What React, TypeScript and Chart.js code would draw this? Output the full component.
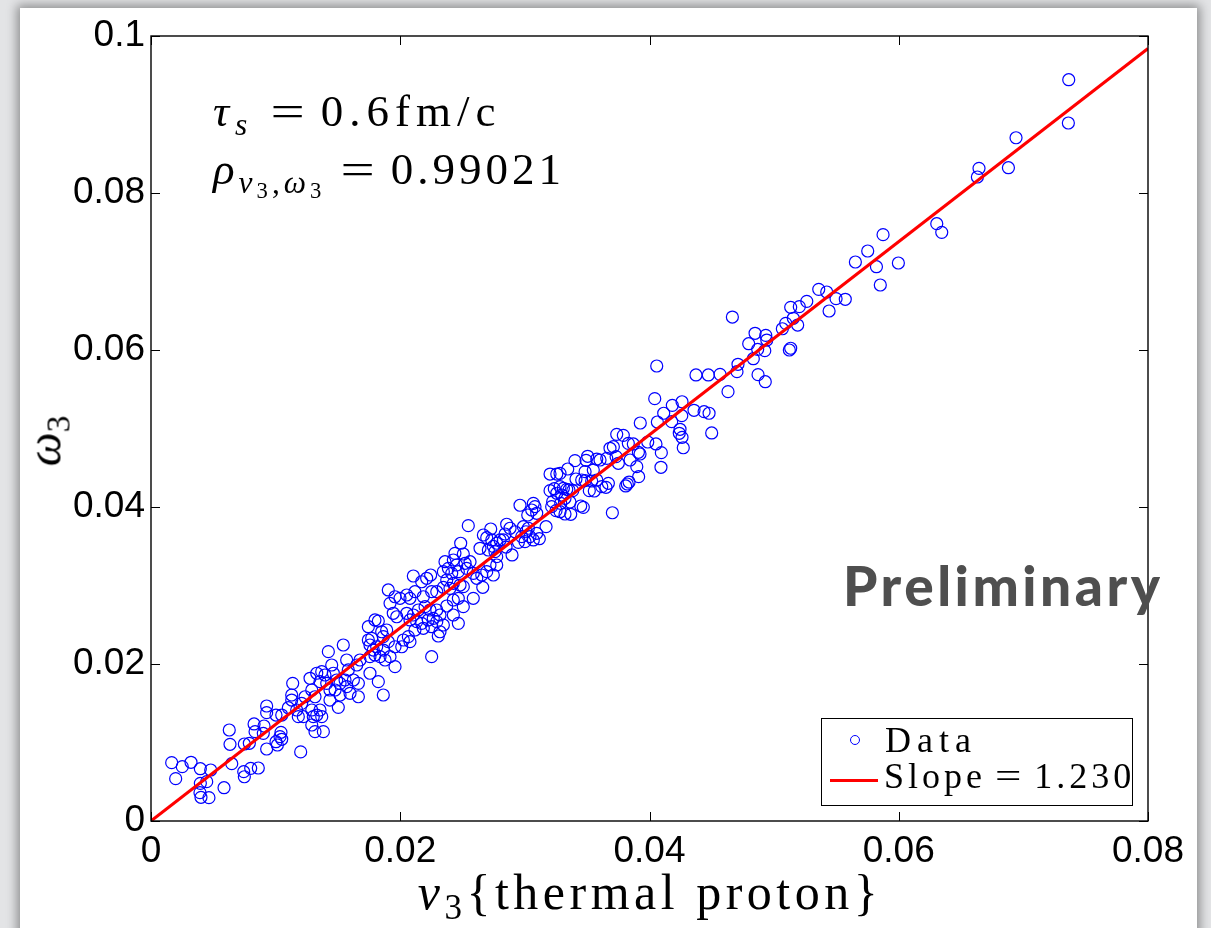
import React, { useEffect, useRef } from "react";
import { Chart, registerables } from "chart.js";

Chart.register(...registerables);

// ---- axis ticks ----
const xTicks = [0, 0.02, 0.04, 0.06, 0.08];
const yTicks = [0, 0.02, 0.04, 0.06, 0.08, 0.1];
const xRange = [0, 0.08];
const yRange = [0, 0.1];

// ---- fit ----
const slope = 1.23;
const fitX = [0, 0.08];

// ---- data (v3, omega3) ----
const dataLow: [number, number][] = [
  [0.00166,0.00743],[0.00251,0.00692],[0.00321,0.00748],[0.00396,0.00666],[0.00479,0.00650],[0.00198,0.00539],[0.00396,0.00480],[0.00447,0.00501],[0.00393,0.00361],[0.00401,0.00302],[0.00465,0.00297],[0.00586,0.00424],[0.00648,0.00730],[0.00628,0.01159],[0.00634,0.00977],[0.00744,0.00628],[0.00749,0.00564],[0.00800,0.00671],[0.00861,0.00675],[0.00749,0.00981],[0.00789,0.00990],[0.00827,0.01236],[0.00835,0.01138],[0.00907,0.01210],[0.00901,0.01117],[0.00928,0.01465],[0.00928,0.01380],[0.00928,0.00917],[0.01003,0.01010],[0.01014,0.00968],[0.01043,0.01130],[0.01035,0.01074],[0.01049,0.01041],[0.01003,0.01350],[0.01049,0.01350],[0.01201,0.00880],
];
const dataLowMid: [number, number][] = [
  [0.01102,0.01443],[0.01137,0.01754],[0.01129,0.01605],[0.01129,0.01541],[0.01169,0.01414],[0.01209,0.01499],[0.01182,0.01329],[0.01222,0.01329],[0.01236,0.01583],[0.01276,0.01818],[0.01290,0.01669],[0.01316,0.01583],[0.01290,0.01414],[0.01302,0.01329],[0.01330,0.01350],[0.01356,0.01414],[0.01370,0.01329],[0.01290,0.01223],[0.01316,0.01138],[0.01383,0.01138],[0.01330,0.01882],[0.01370,0.01902],[0.01396,0.01860],[0.01356,0.01775],[0.01410,0.01754],[0.01450,0.01987],[0.01423,0.02157],[0.01463,0.01882],[0.01490,0.01796],[0.01436,0.01669],[0.01477,0.01669],[0.01517,0.01754],[0.01557,0.01796],[0.01543,0.02242],[0.01570,0.02051],[0.01517,0.01605],[0.01436,0.01541],[0.01503,0.01448],[0.01570,0.01711],[0.01583,0.01924],[0.01664,0.01583],[0.01597,0.01627],
];
const dataMid: [number, number][] = [
  [0.01677,0.02051],[0.01651,0.01987],[0.01757,0.01882],[0.01824,0.01775],[0.01864,0.01605],[0.01664,0.01754],[0.01624,0.01796],[0.01744,0.02475],[0.01797,0.02561],[0.01824,0.02548],[0.01771,0.02327],[0.01851,0.02411],[0.01891,0.02433],[0.01864,0.02348],[0.01904,0.02284],[0.01864,0.02178],[0.01838,0.02093],[0.01878,0.02051],[0.01918,0.02093],[0.01958,0.01966],[0.02025,0.02306],[0.01958,0.02220],[0.01811,0.02220],[0.01744,0.02306],[0.01757,0.02242],[0.01784,0.02178],[0.01797,0.02115],[0.01757,0.02093],[0.02252,0.02093],[0.02078,0.02561],[0.02132,0.02539],[0.02172,0.02518],[0.02225,0.02561],[0.02265,0.02582],[0.02293,0.02539],[0.02252,0.02475],[0.02185,0.02455],[0.02118,0.02433],[0.02065,0.02348],[0.02078,0.02284],[0.02012,0.02220],[0.02319,0.02411],[0.02346,0.02497],[0.02305,0.02357],[0.02426,0.02624],[0.02466,0.02518],[0.02506,0.02730],[0.02373,0.02739],[0.01918,0.02773],[0.01944,0.02646],[0.01972,0.02602],[0.02052,0.02646],[0.02105,0.02624],[0.02145,0.02688],[0.02199,0.02730],[0.02239,0.02688],[0.02293,0.02688],[0.02319,0.02624],[0.02426,0.02815],[0.02466,0.02837],[0.01904,0.02943],[0.01958,0.02857],[0.01998,0.02837],[0.02052,0.02879],[0.02078,0.02837],[0.02118,0.02921],[0.02185,0.02857],[0.02252,0.02921],[0.02293,0.02921],[0.02346,0.02977],[0.02399,0.02964],[0.02105,0.03121],[0.02172,0.03048],[0.02212,0.03092],[0.02244,0.03134],[0.02373,0.03070],[0.02426,0.03028],[0.02480,0.03006],[0.02506,0.02985],[0.02662,0.02977],[0.02586,0.02837],[0.02359,0.03303],[0.02426,0.03325],[0.02453,0.03261],[0.02386,0.03219],[0.02346,0.03176],[0.02413,0.03155],[0.02466,0.03176],[0.02520,0.03283],[0.02560,0.03303],[0.02533,0.03219],[0.02586,0.03155],[0.02614,0.03092],[0.02654,0.03134],[0.02694,0.03176],[0.02747,0.03134],[0.02774,0.03261],[0.02720,0.03261],[0.02439,0.03410],[0.02506,0.03401],[0.02640,0.03474],[0.02707,0.03452],[0.02760,0.03431],[0.02774,0.03367],[0.02726,0.03720],[0.02667,0.03643],[0.02694,0.03609],[0.02734,0.03580],[0.02485,0.03538],[0.02546,0.03762],
];
const dataUpperMid: [number, number][] = [
  [0.03577,0.04611],[0.03504,0.04646],[0.03491,0.04595],[0.03402,0.04590],[0.03344,0.04484],[0.03202,0.04420],[0.03256,0.04420],[0.03282,0.04429],[0.03483,0.04450],[0.03549,0.04471],[0.03410,0.04357],[0.03456,0.04344],[0.03483,0.04335],[0.03536,0.04331],[0.03577,0.04344],[0.03617,0.04259],[0.03670,0.04302],[0.03651,0.04251],[0.03822,0.04293],[0.03836,0.04318],[0.03809,0.04268],[0.03517,0.04208],[0.03557,0.04204],[0.03202,0.04208],[0.03236,0.04233],[0.03256,0.04175],[0.03282,0.04259],[0.03309,0.04238],[0.03336,0.04225],[0.03354,0.04217],[0.03384,0.04208],[0.03296,0.04153],[0.03322,0.04111],[0.03362,0.04064],[0.03288,0.04047],[0.03215,0.04004],[0.03223,0.04068],[0.03250,0.03953],[0.03282,0.03940],[0.03322,0.03911],[0.03368,0.03907],[0.03448,0.04013],[0.03469,0.03996],[0.03702,0.03927],[0.02961,0.04022],[0.03068,0.04047],[0.03081,0.04004],[0.03055,0.03962],[0.03095,0.03920],[0.03023,0.03898],[0.03170,0.03749],[0.02854,0.03780],[0.02881,0.03729],[0.02841,0.03656],[0.02827,0.03580],[0.02921,0.03685],[0.02988,0.03749],[0.03028,0.03729],[0.03009,0.03685],[0.02975,0.03622],[0.03041,0.03622],[0.03095,0.03665],[0.03116,0.03596],[0.03068,0.03580],[0.03001,0.03558],[0.02948,0.03550],[0.02747,0.03499],[0.02774,0.03538],[0.02801,0.03580],[0.02849,0.03490],[0.02897,0.03389],
];
const dataHighMid: [number, number][] = [
  [0.05093,0.06340],[0.05066,0.06271],[0.05189,0.06318],[0.04665,0.06420],[0.04847,0.06213],[0.04933,0.06187],[0.04796,0.06080],[0.04868,0.06008],[0.04941,0.06127],[0.04925,0.05991],[0.04833,0.05889],[0.05133,0.06022],[0.05122,0.06000],[0.04710,0.05818],[0.04702,0.05724],[0.04871,0.05686],[0.04929,0.05596],[0.04630,0.05469],[0.04566,0.05690],[0.04472,0.05682],[0.04373,0.05682],[0.04058,0.05796],[0.04042,0.05380],[0.04183,0.05295],[0.04261,0.05341],[0.04114,0.05194],[0.04357,0.05232],[0.04438,0.05214],[0.04478,0.05194],[0.04259,0.05163],[0.04178,0.05087],[0.04063,0.05083],[0.03926,0.05070],[0.04245,0.04990],[0.04239,0.04939],[0.04261,0.04888],[0.04499,0.04943],[0.04271,0.04755],[0.03737,0.04926],[0.03790,0.04913],[0.03986,0.04828],[0.04052,0.04803],[0.04095,0.04692],[0.04092,0.04506],[0.03830,0.04811],[0.03870,0.04803],[0.03911,0.04697],[0.03924,0.04675],[0.03710,0.04768],[0.03683,0.04748],[0.03657,0.04620],[0.03732,0.04641],[0.03844,0.04599],[0.03898,0.04514],[0.03750,0.04557],[0.03913,0.04386],[0.03603,0.04599],
];
const dataHigh: [number, number][] = [
  [0.07364,0.09443],[0.07361,0.08892],[0.06941,0.08704],[0.06644,0.08314],[0.06631,0.08204],[0.06880,0.08322],[0.06305,0.07609],[0.06345,0.07499],[0.05874,0.07469],[0.05751,0.07261],[0.05652,0.07121],[0.05821,0.07061],[0.05997,0.07108],[0.05852,0.06828],[0.05358,0.06773],[0.05422,0.06739],[0.05497,0.06654],[0.05571,0.06646],[0.05441,0.06497],[0.05262,0.06620],[0.05202,0.06552],[0.05133,0.06544],[0.05154,0.06404],
];

const allData = [...dataLow, ...dataLowMid, ...dataMid, ...dataUpperMid, ...dataHighMid, ...dataHigh];

const W = 1211;
const H = 928;

const boxPlugin = {
  id: "matlabBox",
  afterDatasetsDraw(chart: any) {
    const { ctx, chartArea } = chart;
    const { left, right, top, bottom } = chartArea;
    const xs = chart.scales.x;
    const ys = chart.scales.y;
    const tl = 9;
    ctx.save();
    ctx.strokeStyle = "#000";
    ctx.lineWidth = 1;
    ctx.beginPath();
    xTicks.forEach((v) => {
      const px = Math.round(xs.getPixelForValue(v)) + 0.5;
      ctx.moveTo(px, bottom);
      ctx.lineTo(px, bottom - tl);
      ctx.moveTo(px, top);
      ctx.lineTo(px, top + tl);
    });
    yTicks.forEach((v) => {
      const py = Math.round(ys.getPixelForValue(v)) + 0.5;
      ctx.moveTo(left, py);
      ctx.lineTo(left + tl, py);
      ctx.moveTo(right, py);
      ctx.lineTo(right - tl, py);
    });
    ctx.stroke();
    ctx.lineWidth = 1.4;
    ctx.strokeRect(left, top, right - left, bottom - top);
    ctx.restore();
  },
};

const serif = "'Liberation Serif', 'Times New Roman', serif";

const Sub: React.FC<{ children: React.ReactNode; size?: number; drop?: number }> = ({ children, size = 0.7, drop = 0.28 }) => (
  <span style={{ fontSize: `${size}em`, position: "relative", top: `${drop}em` }}>{children}</span>
);

const Eq: React.FC<{ ml: number; mr: number; sx?: number }> = ({ ml, mr, sx = 1.35 }) => (
  <span style={{ display: "inline-block", margin: `0 ${mr}px 0 ${ml}px`, transform: `scaleX(${sx})`, letterSpacing: 0 }}>=</span>
);

export default function App() {
  const canvasRef = useRef<HTMLCanvasElement | null>(null);

  useEffect(() => {
    if (!canvasRef.current) return;
    const chart = new Chart(canvasRef.current, {
      type: "scatter",
      data: {
        datasets: [
          {
            type: "line",
            label: "Slope = 1.230",
            data: fitX.map((x) => ({ x, y: slope * x })),
            borderColor: "#ff0000",
            borderWidth: 3,
            pointRadius: 0,
            fill: false,
            order: 0,
          } as any,
          {
            label: "Data",
            data: allData.map(([x, y]) => ({ x, y })),
            borderColor: "#0000ff",
            backgroundColor: "rgba(0,0,0,0)",
            borderWidth: 1.2,
            pointRadius: 6,
            pointStyle: "circle",
            order: 1,
          },
        ],
      },
      options: {
        responsive: false,
        animation: false,
        events: [],
        layout: { padding: { left: 0, top: 36, right: 63, bottom: 0 } },
        plugins: {
          legend: { display: false },
          tooltip: { enabled: false },
        },
        scales: {
          x: {
            type: "linear",
            min: xRange[0],
            max: xRange[1],
            afterFit: (s: any) => {
              s.height = 107;
            },
            afterBuildTicks: (s: any) => {
              s.ticks = xTicks.map((v) => ({ value: v }));
            },
            ticks: {
              padding: 9,
              color: "#000",
              font: { family: "'Liberation Sans', Arial, sans-serif", size: 37 },
              callback: (v: any) => String(Number(Number(v).toFixed(2))),
            },
            grid: { display: false, drawTicks: false },
            border: { display: false },
          },
          y: {
            type: "linear",
            min: yRange[0],
            max: yRange[1],
            afterFit: (s: any) => {
              s.width = 151;
            },
            afterBuildTicks: (s: any) => {
              s.ticks = yTicks.map((v) => ({ value: v }));
            },
            ticks: {
              padding: 6,
              color: "#000",
              font: { family: "'Liberation Sans', Arial, sans-serif", size: 37 },
              callback: (v: any) => String(Number(Number(v).toFixed(2))),
            },
            grid: { display: false, drawTicks: false },
            border: { display: false },
          },
        },
      },
      plugins: [boxPlugin],
    });
    return () => chart.destroy();
  }, []);

  return (
    <div style={{ position: "absolute", left: 0, top: 0, width: W, height: H, overflow: "hidden", background: "#e3e4e6" }}>
      <div
        style={{
          position: "absolute",
          left: 20,
          top: 8,
          width: 1177,
          height: 940,
          background: "#fff",
          boxShadow: "0 0 10px 3px rgba(0,0,0,0.38)",
        }}
      />
      <canvas ref={canvasRef} width={W} height={H} style={{ position: "absolute", left: 0, top: 0, width: W, height: H }} />

      {/* annotations */}
      <div style={{ position: "absolute", left: 213, top: 89, font: `45px ${serif}`, lineHeight: "45px", whiteSpace: "nowrap", color: "#000", letterSpacing: "6px" }}>
        <i>τ</i>
        <Sub>
          <i>s</i>
        </Sub>
        <Eq ml={22} mr={20} />
        0.6fm/c
      </div>
      <div style={{ position: "absolute", left: 213, top: 147, font: `45px ${serif}`, lineHeight: "45px", whiteSpace: "nowrap", color: "#000", letterSpacing: "4px" }}>
        <i>ρ</i>
        <Sub>
          <i>v</i>
          <Sub size={0.72} drop={0.25}>3</Sub>,<i>ω</i>
          <Sub size={0.72} drop={0.25}>3</Sub>
        </Sub>
        <Eq ml={20} mr={20} />
        0.99021
      </div>

      {/* Preliminary */}
      <div
        style={{
          position: "absolute",
          left: 843,
          top: 555,
          font: "900 55px Lato, 'Open Sans', sans-serif",
          lineHeight: "60px",
          letterSpacing: "3.5px",
          color: "#4f4f4f",
          whiteSpace: "nowrap",
        }}
      >
        Preliminary
      </div>

      {/* legend */}
      <div
        style={{
          position: "absolute",
          left: 821,
          top: 718,
          width: 310,
          height: 86,
          border: "1.4px solid #000",
          background: "#fff",
        }}
      />
      <div
        style={{
          position: "absolute",
          left: 850,
          top: 735,
          width: 8,
          height: 8,
          borderRadius: "50%",
          border: "1.2px solid #0000ff",
        }}
      />
      <div style={{ position: "absolute", left: 830, top: 779, width: 48, height: 3, background: "#ff0000" }} />
      <div style={{ position: "absolute", left: 885, top: 722, font: `36px ${serif}`, lineHeight: "36px", letterSpacing: "6px", whiteSpace: "nowrap" }}>
        Data
      </div>
      <div style={{ position: "absolute", left: 884, top: 758, font: `36px ${serif}`, lineHeight: "36px", letterSpacing: "4px", whiteSpace: "nowrap" }}>
        Slope
        <Eq ml={12} mr={16} sx={1.3} />
        1.230
      </div>

      {/* axis titles */}
      <div
        style={{
          position: "absolute",
          left: 650,
          top: 867,
          transform: "translateX(-50%)",
          font: `50px ${serif}`,
          lineHeight: "50px",
          letterSpacing: "4.5px",
          whiteSpace: "nowrap",
        }}
      >
        <i>v</i>
        <Sub>3</Sub>
        {"{thermal proton}"}
      </div>
      <div
        style={{
          position: "absolute",
          left: 47,
          top: 441,
          transform: "translate(-50%, -50%) rotate(-90deg)",
          font: `48px ${serif}`,
          lineHeight: "48px",
          whiteSpace: "nowrap",
        }}
      >
        <i>ω</i>
        <Sub>3</Sub>
      </div>
    </div>
  );
}
